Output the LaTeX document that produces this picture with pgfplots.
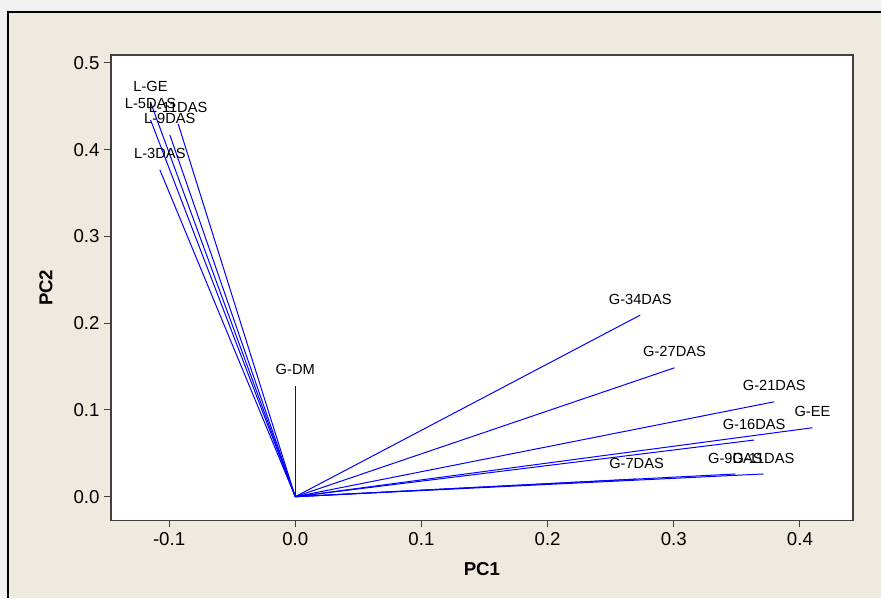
\documentclass[border=0pt]{standalone}
\usepackage{fontspec}
\setmainfont{Liberation Sans}
\usepackage{pgfplots}
\pgfplotsset{compat=1.18}
\definecolor{bgbeige}{RGB}{238,234,224}
\definecolor{outergray}{RGB}{240,240,240}
\definecolor{axgray}{RGB}{64,64,64}
\definecolor{ln}{RGB}{0,0,255}
\tikzset{lbl/.style={anchor=center, yshift=12pt, font=\fontsize{11}{13}\selectfont, text=black},
  vec/.style={draw=ln, line width=0.75pt, mark=none, solid}}
\begin{document}
\begin{tikzpicture}
\fill[outergray] (0pt,0pt) rectangle (661.5pt,448.5pt);
\fill[bgbeige] (6pt,0pt) rectangle (661.5pt,439.5pt);
\draw[black, line width=0.9pt] (6pt,0pt) -- (6pt,439.5pt) -- (661.5pt,439.5pt);
\begin{axis}[
  at={(83.25pt,57.75pt)}, anchor=south west,
  scale only axis, width=556.9pt, height=349.5pt,
  xmin=-0.1461, xmax=0.442, ymin=-0.0276, ymax=0.5092,
  axis background/.style={fill=white},
  axis line style={axgray, line width=0.9pt},
  tick align=outside, xtick pos=bottom, ytick pos=left,
  major tick length=5pt,
  tick style={axgray, line width=0.7pt},
  xtick={-0.1,0,0.1,0.2,0.3,0.4},
  xticklabels={-0.1,0.0,0.1,0.2,0.3,0.4},
  ytick={0,0.1,0.2,0.3,0.4,0.5},
  yticklabels={0.0,0.1,0.2,0.3,0.4,0.5},
  ticklabel style={font=\fontsize{14}{16}\selectfont, text=black},
  xlabel={\textbf{PC1}}, ylabel={\textbf{PC2}},
  label style={font=\fontsize{14}{16}\selectfont},
  xlabel style={at={(axis description cs:0.5,-0.105)}, anchor=center},
  ylabel style={at={(axis description cs:-0.0875,0.5)}, anchor=center},
  clip=false,
]
\addplot[vec] coordinates {(0,0) (-0.1147,0.4547)} node[lbl,pos=1] {L-GE};
\addplot[vec] coordinates {(0,0) (-0.1147,0.4343)} node[lbl,pos=1] {L-5DAS};
\addplot[vec] coordinates {(0,0) (-0.0928,0.4297)} node[lbl,pos=1] {L-11DAS};
\addplot[vec] coordinates {(0,0) (-0.0994,0.4170)} node[lbl,pos=1] {L-9DAS};
\addplot[vec] coordinates {(0,0) (-0.1073,0.3767)} node[lbl,pos=1] {L-3DAS};
\addplot[vec] coordinates {(0,0) (0,0.1279)} node[lbl,pos=1] {G-DM};
\addplot[vec] coordinates {(0,0) (0.2734,0.2093)} node[lbl,pos=1] {G-34DAS};
\addplot[vec] coordinates {(0,0) (0.3006,0.1486)} node[lbl,pos=1] {G-27DAS};
\addplot[vec] coordinates {(0,0) (0.3796,0.1094)} node[lbl,pos=1] {G-21DAS};
\addplot[vec] coordinates {(0,0) (0.4099,0.0795)} node[lbl,pos=1] {G-EE};
\addplot[vec] coordinates {(0,0) (0.3637,0.0653)} node[lbl,pos=1] {G-16DAS};
\addplot[vec] coordinates {(0,0) (0.2705,0.0203)} node[lbl,pos=1] {G-7DAS};
\addplot[vec] coordinates {(0,0) (0.3489,0.0262)} node[lbl,pos=1] {G-9DAS};
\addplot[vec] coordinates {(0,0) (0.3711,0.0262)} node[lbl,pos=1] {G-11DAS};
\end{axis}
\end{tikzpicture}
\end{document}
